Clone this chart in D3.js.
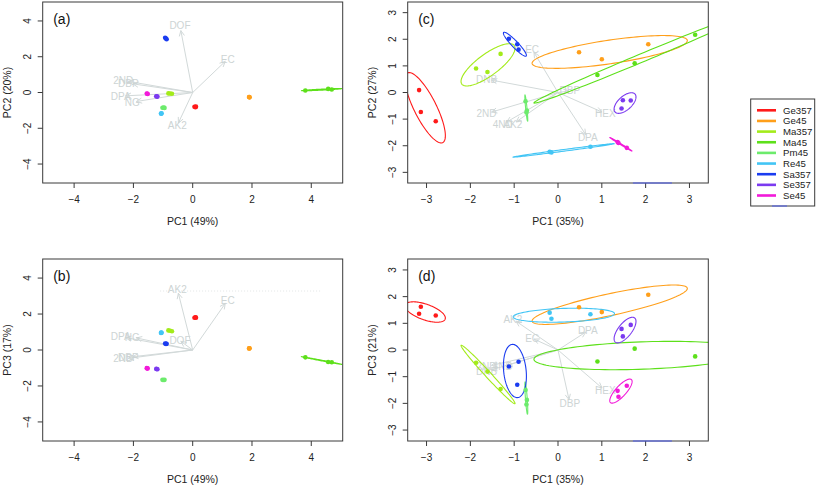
<!DOCTYPE html>
<html><head><meta charset="utf-8">
<script src="https://cdn.jsdelivr.net/npm/d3@7/dist/d3.min.js"></script>
<style>body{margin:0;background:#fff}svg{display:block;font-family:"Liberation Sans",Arial,Helvetica,sans-serif}</style>
</head><body><svg id="chart" width="817" height="486"></svg>
<script>
// ---------- data ----------
const groups = ["Ge357","Ge45","Ma357","Ma45","Pm45","Re45","Sa357","Se357","Se45"];
const groupColors = ["#FF1A1A","#FF9F1A","#A3EB1A","#5DE01A","#6CEB6C","#42C5F5","#1A3CF0","#7B3AF0","#F21AD9"];

// dataset 1 (panels a, b): 3 replicates per group
const abGroup = ["Ge357","Ge357","Ge357","Ge45","Ge45","Ge45","Ma357","Ma357","Ma357","Ma45","Ma45","Ma45","Pm45","Pm45","Pm45","Re45","Re45","Re45","Sa357","Sa357","Sa357","Se357","Se357","Se357","Se45","Se45","Se45"];
const abPC1 = [0.06,0.09,0.11, 1.90,1.92,1.91, -0.82,-0.76,-0.70, 3.80,4.57,4.69, -1.02,-0.98,-0.95, -1.07,-1.06,-1.05, -0.93,-0.90,-0.88, -1.23,-1.21,-1.19, -1.55,-1.53,-1.52];
const abPC2 = [-0.80,-0.82,-0.79, -0.25,-0.27,-0.26, -0.05,-0.06,-0.07, 0.11,0.20,0.17, -0.85,-0.84,-0.86, -1.17,-1.19,-1.16, 3.06,3.02,2.98, -0.21,-0.22,-0.23, -0.06,-0.07,-0.08];
const abPC3 = [1.79,1.82,1.80, 0.09,0.10,0.08, 1.09,1.07,1.04, -0.41,-0.67,-0.68, -1.66,-1.67,-1.66, 0.95,0.97,0.96, 0.36,0.34,0.35, -1.05,-1.06,-1.07, -1.01,-1.02,-1.03];
const abVars = ["DOF","EC","2ND","DBP","DPA","NG","AK2"];
const abLoad1 = [-0.43,1.18,-2.34,-2.17,-2.43,-2.04,-0.52];
const abLoad2 = [3.72,1.87,0.67,0.52,-0.20,-0.54,-1.83];
const abLoad3 = [0.52,2.78,-0.50,-0.40,0.74,0.72,3.39];

// dataset 2 (panels c, d)
const cdGroup = abGroup.slice();
const cdPC1 = [-3.17,-3.13,-2.79, 0.48,1.00,2.06, -1.87,-1.61,-1.31, 0.90,1.75,3.13, -0.74,-0.71,-0.72, -0.19,-0.15,0.74, -1.12,-0.93,-0.90, 1.48,1.66,1.45, 1.36,1.38,1.57];
const cdPC2 = [0.09,-0.73,-1.08, 1.51,1.25,1.81, 0.90,0.77,1.45, 0.66,1.10,2.17, -0.33,-0.68,-0.75, -2.23,-2.25,-2.04, 2.02,1.81,1.61, -0.29,-0.30,-0.60, -1.86,-1.90,-2.08];
const cdPC3 = [1.36,1.62,1.29, 1.60,1.42,2.07, -0.48,-0.81,-1.46, -0.43,0.05,-0.24, -1.50,-1.87,-2.04, 1.40,1.17,1.34, -0.62,-1.30,-0.44, 0.51,0.94,0.79, -1.53,-1.75,-1.34];
const cdVars = ["EC","DNB","2ND","4ND","AK2","DPA","HEX","DBP"];
const cdLoad1 = [-0.59,-1.63,-1.63,-1.26,-1.03,0.68,1.08,0.27];
const cdLoad2 = [1.62,0.50,-0.79,-1.19,-1.19,-1.70,-0.79,0.06];
const cdLoad3 = [0.44,-0.80,-0.62,-0.62,1.16,0.72,-1.53,-2.00];

const abTicks = [-4,-2,0,2,4];
const cdTicks = [-3,-2,-1,0,1,2,3];

// ---------- drawing ----------
const svg = d3.select("#chart");
const color = d3.scaleOrdinal().domain(groups).range(groupColors);
const defs = svg.append("defs");
let clipId = 0;

function ellipse(xs, ys, r) {
  const n = xs.length;
  const mx = d3.mean(xs), my = d3.mean(ys);
  let sxx = 0, syy = 0, sxy = 0;
  for (let i = 0; i < n; i++) {
    sxx += (xs[i]-mx)**2; syy += (ys[i]-my)**2; sxy += (xs[i]-mx)*(ys[i]-my);
  }
  sxx /= (n-1); syy /= (n-1); sxy /= (n-1);
  const tr = sxx + syy, det = sxx*syy - sxy*sxy;
  const disc = Math.sqrt(Math.max(tr*tr/4 - det, 0));
  const l1 = tr/2 + disc, l2 = Math.max(tr/2 - disc, 0);
  const th = 0.5*Math.atan2(2*sxy, sxx - syy);
  const a = r*Math.sqrt(l1), b = r*Math.sqrt(l2);
  const pts = [];
  for (let k = 0; k <= 120; k++) {
    const t = 2*Math.PI*k/120;
    pts.push([mx + a*Math.cos(t)*Math.cos(th) - b*Math.sin(t)*Math.sin(th),
              my + a*Math.cos(t)*Math.sin(th) + b*Math.sin(t)*Math.cos(th)]);
  }
  return pts;
}

function panel(o) {
  const g = svg.append("g");
  const x = d3.scaleLinear().domain(o.xDom).range([o.left, o.right]);
  const y = d3.scaleLinear().domain(o.yDom).range([o.bottom, o.top]);
  const id = "clip" + (clipId++);
  defs.append("clipPath").attr("id", id).append("rect")
    .attr("x", o.left).attr("y", o.top).attr("width", o.right - o.left).attr("height", o.bottom - o.top);
  const inner = g.append("g").attr("clip-path", `url(#${id})`);

  // loading arrows
  const arrowCol = "#D2D9D9";
  o.vars.forEach((v, i) => {
    const lx = o.lx[i], ly = o.ly[i];
    const x0 = x(0), y0 = y(0), x1 = x(lx*0.93), y1 = y(ly*0.93);
    inner.append("line").attr("x1", x0).attr("y1", y0).attr("x2", x1).attr("y2", y1)
      .attr("stroke", arrowCol).attr("stroke-width", 1);
    const ang = Math.atan2(y1 - y0, x1 - x0), L = 6, spread = Math.PI/7;
    [ang + Math.PI - spread, ang + Math.PI + spread].forEach(a2 => {
      inner.append("line").attr("x1", x1).attr("y1", y1)
        .attr("x2", x1 + L*Math.cos(a2)).attr("y2", y1 + L*Math.sin(a2))
        .attr("stroke", arrowCol).attr("stroke-width", 1);
    });
  });
  o.vars.forEach((v, i) => {
    inner.append("text").attr("x", x(o.lx[i])).attr("y", y(o.ly[i]) + 3.5)
      .attr("text-anchor", "middle").attr("font-size", 10).attr("fill", "#CDD4D4").text(v);
  });

  // ellipses
  groups.forEach(gr => {
    const idx = o.grp.map((d, i) => d === gr ? i : -1).filter(i => i >= 0);
    const pts = ellipse(idx.map(i => o.px[i]), idx.map(i => o.py[i]), o.r);
    inner.append("path").attr("d", d3.line().x(d => x(d[0])).y(d => y(d[1]))(pts))
      .attr("fill", "none").attr("stroke", color(gr)).attr("stroke-width", 1.1);
  });
  // points
  inner.selectAll("circle.pt").data(o.grp.map((d, i) => i)).join("circle")
    .attr("cx", i => x(o.px[i])).attr("cy", i => y(o.py[i])).attr("r", 2.3)
    .attr("fill", i => color(o.grp[i]));

  // box
  g.append("rect").attr("x", o.left).attr("y", o.top).attr("width", o.right - o.left)
    .attr("height", o.bottom - o.top).attr("fill", "none").attr("stroke", "#3a3a3a").attr("stroke-width", 1);

  // axes
  const tickCol = "#3a3a3a";
  o.ticks.forEach(t => {
    g.append("line").attr("x1", x(t)).attr("x2", x(t)).attr("y1", o.bottom).attr("y2", o.bottom + 5).attr("stroke", tickCol);
    g.append("text").attr("x", x(t)).attr("y", o.bottom + 20).attr("text-anchor", "middle")
      .attr("font-size", 10).attr("fill", "#222").text(t < 0 ? "\u2212" + Math.abs(t) : t);
    g.append("line").attr("y1", y(t)).attr("y2", y(t)).attr("x1", o.left).attr("x2", o.left - 5).attr("stroke", tickCol);
    g.append("text").attr("transform", `translate(${o.left - 12},${y(t)}) rotate(-90)`)
      .attr("text-anchor", "middle").attr("font-size", 10).attr("fill", "#222").text(t < 0 ? "\u2212" + Math.abs(t) : t);
  });
  g.append("text").attr("x", (o.left + o.right)/2).attr("y", o.bottom + 42).attr("text-anchor", "middle")
    .attr("font-size", 10.5).attr("fill", "#222").text(o.xTitle);
  g.append("text").attr("transform", `translate(${o.left - 32},${(o.top + o.bottom)/2}) rotate(-90)`)
    .attr("text-anchor", "middle").attr("font-size", 10.5).attr("fill", "#222").text(o.yTitle);
  g.append("text").attr("x", o.left + 10.5).attr("y", o.top + 22).attr("font-size", 14).attr("fill", "#111").text(o.tag);
  return {x, y, g};
}

const AB = {left: 42.7, right: 342.7};
const CD = {left: 407.7, right: 708.3};
const R1 = {top: 2, bottom: 183};
const R2 = {top: 259, bottom: 441};

panel({...AB, ...R1, xDom: [-5.06, 5.06], yDom: [-5.06, 5.06], ticks: abTicks,
  grp: abGroup, px: abPC1, py: abPC2, vars: abVars, lx: abLoad1, ly: abLoad2, r: 1.41,
  xTitle: "PC1 (49%)", yTitle: "PC2 (20%)", tag: "(a)"});
const pb = panel({...AB, ...R2, xDom: [-5.06, 5.06], yDom: [-5.06, 5.06], ticks: abTicks,
  grp: abGroup, px: abPC1, py: abPC3, vars: abVars, lx: abLoad1, ly: abLoad3, r: 1.41,
  xTitle: "PC1 (49%)", yTitle: "PC3 (17%)", tag: "(b)"});
const pc = panel({...CD, ...R1, xDom: [-3.43, 3.43], yDom: [-3.4, 3.4], ticks: cdTicks,
  grp: cdGroup, px: cdPC1, py: cdPC2, vars: cdVars, lx: cdLoad1, ly: cdLoad2, r: 2.2,
  xTitle: "PC1 (35%)", yTitle: "PC2 (27%)", tag: "(c)"});
const pd = panel({...CD, ...R2, xDom: [-3.43, 3.43], yDom: [-3.41, 3.41], ticks: cdTicks,
  grp: cdGroup, px: cdPC1, py: cdPC3, vars: cdVars, lx: cdLoad1, ly: cdLoad3, r: 2.2,
  xTitle: "PC1 (35%)", yTitle: "PC3 (21%)", tag: "(d)"});

// faint artefacts visible in the original figure
pb.g.append("line").attr("x1", pb.x(-1.1)).attr("x2", pb.x(4.3)).attr("y1", pb.y(3.28)).attr("y2", pb.y(3.28))
  .attr("stroke", "#E2E6E6").attr("stroke-dasharray", "1,2");
[pc, pd].forEach((p, k) => {
  p.g.append("line").attr("x1", p.x(1.71)).attr("x2", p.x(2.6)).attr("y1", k ? 441 : 183).attr("y2", k ? 441 : 183)
    .attr("stroke", "#4d5cf0").attr("stroke-width", 1);
});

// legend
const leg = svg.append("g");
leg.append("rect").attr("x", 750.7).attr("y", 99).attr("width", 64).attr("height", 107)
  .attr("fill", "#fff").attr("stroke", "#3a3a3a");
leg.append("line").attr("x1", 772).attr("x2", 787).attr("y1", 206).attr("y2", 206).attr("stroke", "#4d5cf0");
const ly = d3.scalePoint().domain(groups).range([110.3, 195.5]);
groups.forEach(gr => {
  leg.append("line").attr("x1", 757).attr("x2", 776).attr("y1", ly(gr)).attr("y2", ly(gr))
    .attr("stroke", color(gr)).attr("stroke-width", 2.6);
  leg.append("text").attr("x", 783).attr("y", ly(gr) + 3.5).attr("font-size", 9.6).attr("fill", "#222").text(gr);
});
</script></body></html>
